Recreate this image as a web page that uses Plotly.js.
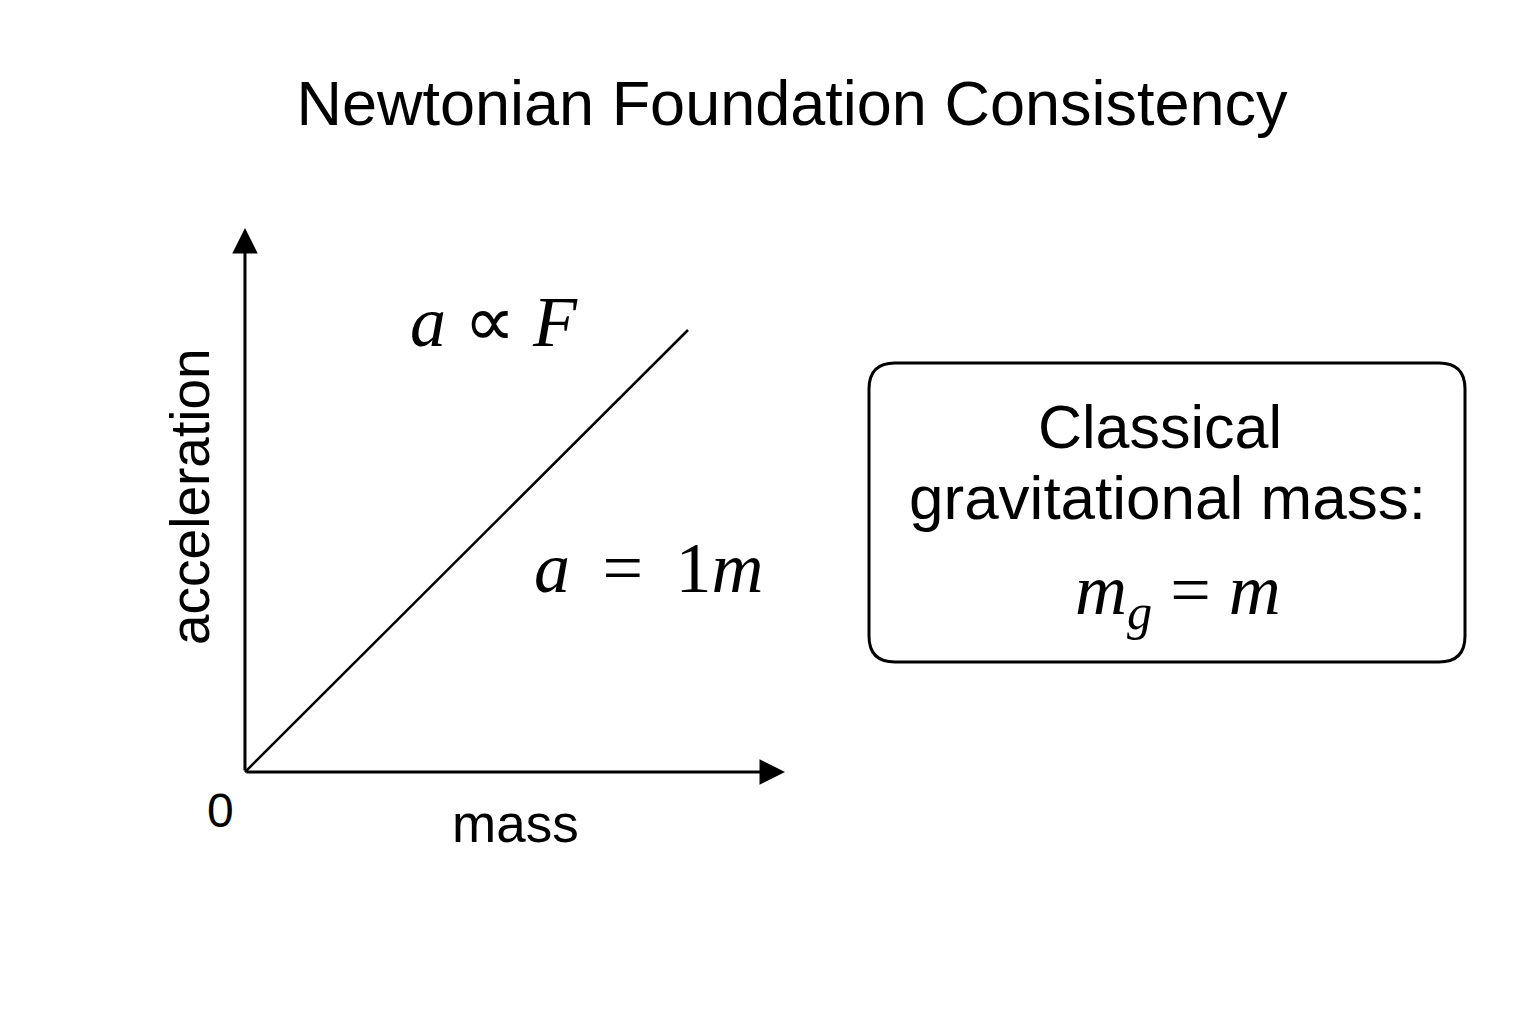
<!DOCTYPE html>
<html>
<head>
<meta charset="utf-8">
<script src="https://cdn.plot.ly/plotly-3.0.1.min.js"></script>
<style>html,body{margin:0;padding:0;background:#fff;}#chart{width:1536px;height:1024px;}</style>
</head>
<body>
<div id="chart"></div>
<script>
// ---- data ----
const massValues = [0, 1];          // mass (arbitrary units)
const accelValues = [0, 1];         // acceleration, a = 1·m
const originLabel = "0";
const xAxisLabel = "mass";
const yAxisLabel = "acceleration";
const chartTitle = "Newtonian Foundation Consistency";
const lawLabel = "<i>a</i> ∝ <i>F</i>";
const lineLabel = "<i>a</i> \u2009= \u20091<i>m</i>";
const boxLines = ["Classical", "gravitational mass:"];
const boxFormula = "<i>m</i><sub><i>g</i></sub> = <i>m</i>";
const axisExtentX = 1.219;
const axisExtentY = 1.231;

// ---- layout helpers (pixel -> paper) ----
const W = 1536, H = 1024;
const px = x => x / W;
const py = y => 1 - y / H;
const SANS = "Liberation Sans, Arial, sans-serif";
const SERIF = "Liberation Serif, Times New Roman, serif";

const lineTrace = {
  x: massValues, y: accelValues, type: "scatter", mode: "lines",
  line: {color: "#000", width: 2.5}, hoverinfo: "skip", showlegend: false
};

const r = 26, bx0 = 869, bx1 = 1465, by0 = 363, by1 = 662;
const boxPath = `M${bx0+r},${by0} L${bx1-r},${by0} Q${bx1},${by0} ${bx1},${by0+r} L${bx1},${by1-r} Q${bx1},${by1} ${bx1-r},${by1} L${bx0+r},${by1} Q${bx0},${by1} ${bx0},${by1-r} L${bx0},${by0+r} Q${bx0},${by0} ${bx0+r},${by0} Z`;

const layout = {
  width: W, height: H,
  margin: {l: 0, r: 0, t: 0, b: 0},
  paper_bgcolor: "#fff", plot_bgcolor: "#fff",
  title: {text: chartTitle, x: px(792), xanchor: "center", y: py(103), yanchor: "middle",
          font: {family: SANS, size: 63, color: "#000"}},
  xaxis: {range: [-0.5530, 2.9142], visible: false, fixedrange: true},
  yaxis: {range: [-0.5701, 1.7466], visible: false, fixedrange: true},
  shapes: [
    {type: "path", xref: "paper", yref: "paper", path: boxPath.replace(/(-?\d+\.?\d*),(-?\d+\.?\d*)/g, (m, a, b) => `${px(+a)},${py(+b)}`),
     line: {color: "#000", width: 3}, fillcolor: "rgba(0,0,0,0)"}
  ],
  annotations: [
    {x: 0, y: axisExtentY, ax: 0, ay: 0, xref: "x", yref: "y", axref: "x", ayref: "y",
     showarrow: true, arrowhead: 2, arrowsize: 1.7, arrowwidth: 3, arrowcolor: "#000", text: ""},
    {x: axisExtentX, y: 0, ax: 0, ay: 0, xref: "x", yref: "y", axref: "x", ayref: "y",
     showarrow: true, arrowhead: 2, arrowsize: 1.7, arrowwidth: 3, arrowcolor: "#000", text: ""},
    {x: px(220), y: py(810), xref: "paper", yref: "paper", text: originLabel, showarrow: false,
     xanchor: "center", yanchor: "middle", font: {family: SANS, size: 48, color: "#000"}},
    {x: px(515), y: py(823), xref: "paper", yref: "paper", text: xAxisLabel, showarrow: false,
     xanchor: "center", yanchor: "middle", font: {family: SANS, size: 53, color: "#000"}},
    {x: px(190), y: py(497), xref: "paper", yref: "paper", text: yAxisLabel, showarrow: false,
     textangle: -90, xanchor: "center", yanchor: "middle", font: {family: SANS, size: 55, color: "#000"}},
    {x: px(494), y: py(322), xref: "paper", yref: "paper", text: lawLabel, showarrow: false,
     xanchor: "center", yanchor: "middle", font: {family: SERIF, size: 72, color: "#000"}},
    {x: px(648), y: py(568), xref: "paper", yref: "paper", text: lineLabel, showarrow: false,
     xanchor: "center", yanchor: "middle", font: {family: SERIF, size: 72, color: "#000"}},
    {x: px(1160), y: py(427), xref: "paper", yref: "paper", text: boxLines[0], showarrow: false,
     xanchor: "center", yanchor: "middle", font: {family: SANS, size: 61, color: "#000"}},
    {x: px(1167), y: py(497), xref: "paper", yref: "paper", text: boxLines[1], showarrow: false,
     xanchor: "center", yanchor: "middle", font: {family: SANS, size: 62, color: "#000"}},
    {x: px(1178), y: py(595), xref: "paper", yref: "paper", text: boxFormula, showarrow: false,
     xanchor: "center", yanchor: "middle", font: {family: SERIF, size: 72, color: "#000"}}
  ]
};

Plotly.newPlot("chart", [lineTrace], layout, {staticPlot: true, displayModeBar: false});
</script>
</body>
</html>
